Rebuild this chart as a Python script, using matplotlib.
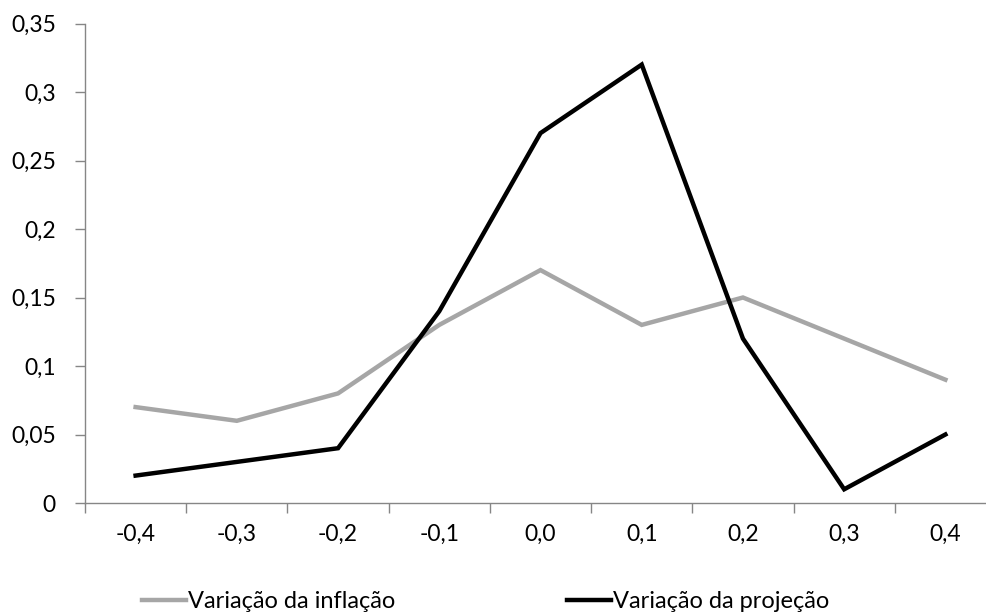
import matplotlib.pyplot as plt

# categories and the two series
categorias = ["-0,4", "-0,3", "-0,2", "-0,1", "0,0", "0,1", "0,2", "0,3", "0,4"]
inflacao = [0.07, 0.06, 0.08, 0.13, 0.17, 0.13, 0.15, 0.12, 0.09]
projecao = [0.02, 0.03, 0.04, 0.14, 0.27, 0.32, 0.12, 0.01, 0.05]
y_ticks = [0, 0.05, 0.1, 0.15, 0.2, 0.25, 0.3, 0.35]
y_labels = ["0", "0,05", "0,1", "0,15", "0,2", "0,25", "0,3", "0,35"]

plt.rcParams['font.family'] = ['Lato', 'DejaVu Sans']
axis_grey = "#868686"
fs = 16.5

fig = plt.figure(figsize=(9.86, 6.14), dpi=100)
# plot area in figure fractions (Excel-like, runs off the right edge)
ax = fig.add_axes([85 / 986, 1 - 503 / 614, 911 / 986, 479.5 / 614])

x = list(range(len(categorias)))
ax.plot(x, inflacao, color="#A6A6A6", lw=3.2, solid_joinstyle='miter',
        label="Variação da inflação")
ax.plot(x, projecao, color="black", lw=3.2, solid_joinstyle='miter',
        label="Variação da projeção")

ax.set_xlim(-0.5, len(categorias) - 0.5)
ax.set_ylim(0, 0.35)

ax.set_xticks(x)
ax.set_xticklabels(categorias)
ax.set_xticks([i - 0.5 for i in range(len(categorias) + 1)], minor=True)
ax.tick_params(axis='x', which='major', length=0, pad=15, labelsize=fs)
ax.tick_params(axis='x', which='minor', length=7, width=1, color=axis_grey)

ax.set_yticks(y_ticks)
ax.set_yticklabels(y_labels)
ax.tick_params(axis='y', length=7, width=1, color=axis_grey, pad=14, labelsize=fs)

for s in ["top", "right"]:
    ax.spines[s].set_visible(False)
for s in ["left", "bottom"]:
    ax.spines[s].set_color(axis_grey)
    ax.spines[s].set_linewidth(1)

fig.legend(loc="lower left", bbox_to_anchor=(133 / 986, -0.012), ncol=2,
           frameon=False, fontsize=17, handlelength=1.85, handletextpad=0.1,
           columnspacing=7.25, borderaxespad=0)

fig.savefig("out.png", dpi=100)
